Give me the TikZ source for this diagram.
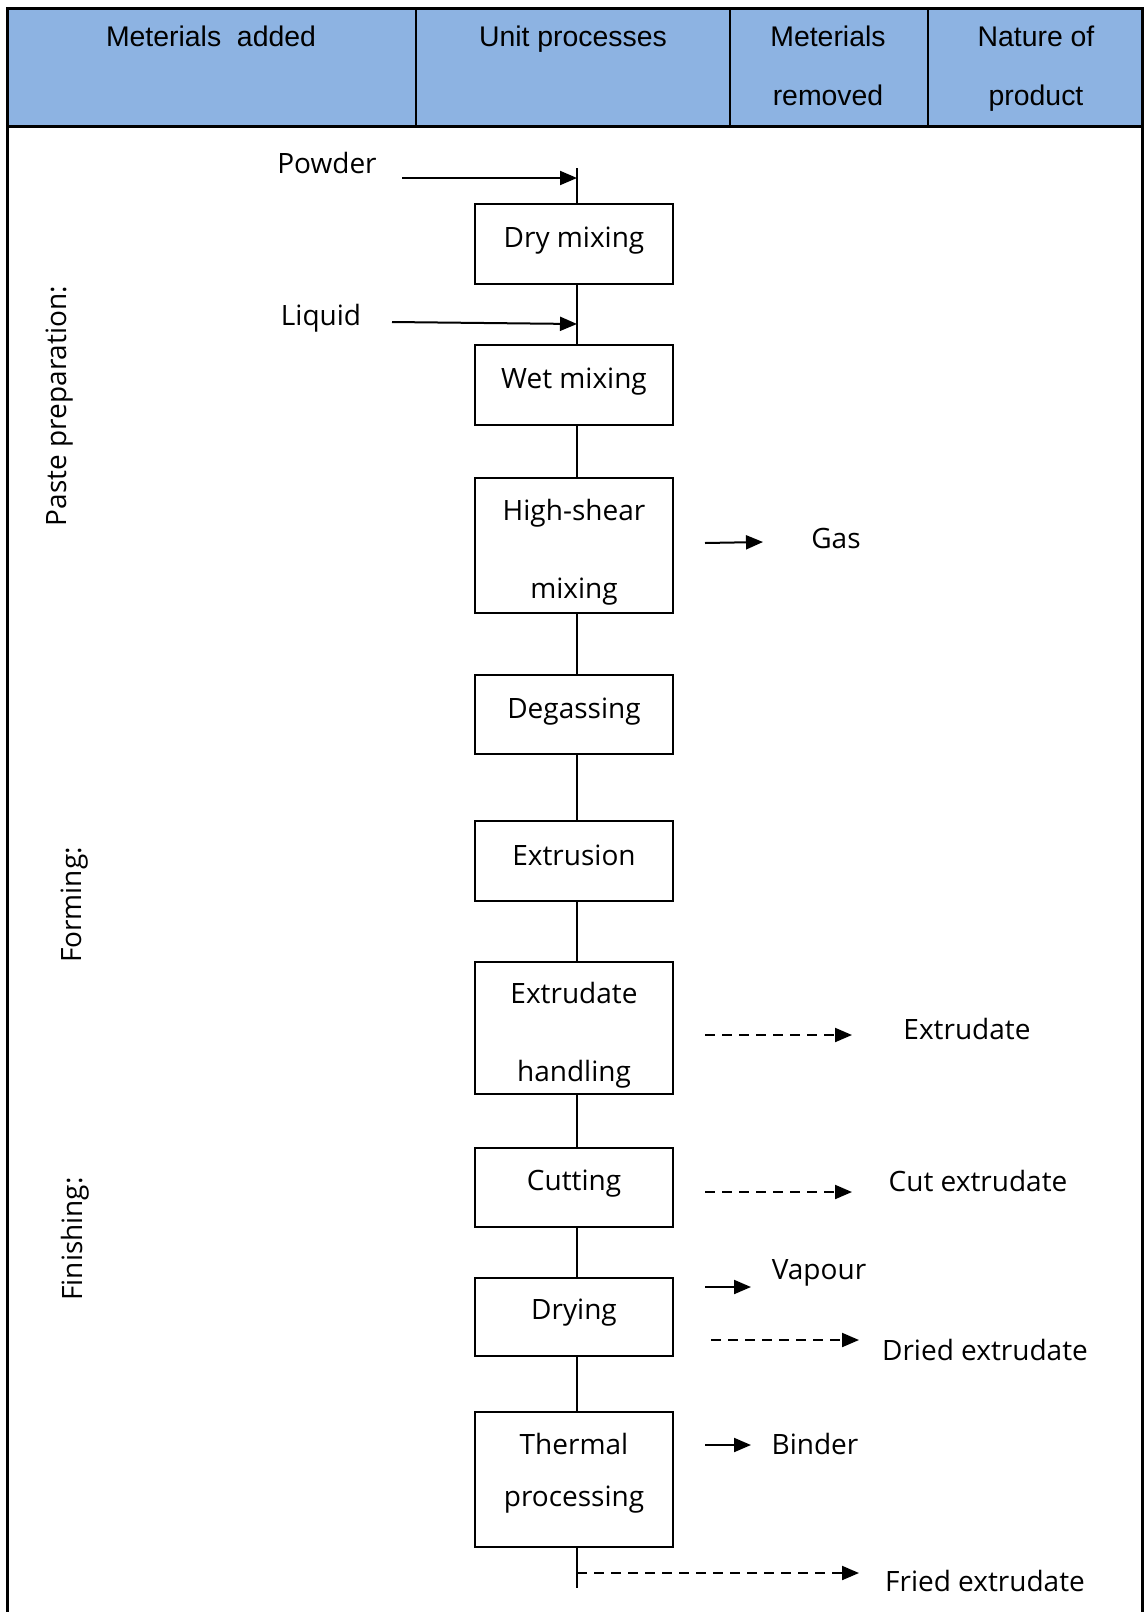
\documentclass[tikz,border=0pt]{standalone}
\usepackage{fontspec}
\setmainfont{Open Sans}
\newfontfamily\headfont{Liberation Sans}
\usetikzlibrary{arrows.meta}
\definecolor{headblue}{HTML}{8DB3E2}

\begin{document}
\begin{tikzpicture}[x=0.5pt,y=-0.5pt,
  procbox/.style={draw, line width=1pt, minimum width=99pt, inner sep=0pt},
  lbl/.style={font=\fontsize{14}{16}\selectfont, inner sep=0pt},
  boxtxt/.style={lbl, align=center},
  sidelbl/.style={lbl, rotate=90},
  headtxt/.style={font=\headfont\fontsize{14.2}{17}\selectfont, inner sep=0pt, anchor=base},
  flow/.style={line width=1pt},
  feed/.style={line width=1pt, -{Triangle[length=8.5pt,width=7pt]}},
  prod/.style={feed, dash pattern=on 5pt off 3.5pt},
  frame/.style={line width=1.5pt},
  off/.style={xshift=1.5pt},
]
\useasboundingbox (0,0) rectangle (1144,1612);

% table header
\fill[headblue] (7,8) rectangle (1142,126);
\draw[frame] (7,1612) -- (7,8) -- (1142,8) -- (1142,1612);
\draw[frame] (7,126) -- (1142,126);
\draw[line width=1.2pt] (416,8) -- (416,126) (730,8) -- (730,126) (928,8) -- (928,126);

\node[headtxt] (hadd) at (211,46.5) {Meterials\ \ added};
\node[headtxt] (hunit) at (573,46.5) {Unit processes};
\node[headtxt] (hrem1) at (828,46.5) {Meterials};
\node[headtxt] (hrem2) at (828,105.5) {removed};
\node[headtxt] (hnat1) at (1036,46.5) {Nature of};
\node[headtxt] (hnat2) at (1036,105.5) {product};

% stage labels
\node[sidelbl] (stpaste) at (60,406) {Paste preparation:};
\node[sidelbl] (stform) at (75,905) {Forming:};
\node[sidelbl] (stfin) at (75,1239) {Finishing:};

% unit processes
\node[procbox, minimum height=40pt] (dry) at (574,244) {};
\node[procbox, minimum height=40pt] (wet) at (574,385) {};
\node[procbox, minimum height=67.5pt] (shear) at (574,545.5) {};
\node[procbox, minimum height=39.5pt] (degas) at (574,714.5) {};
\node[procbox, minimum height=40pt] (extr) at (574,861) {};
\node[procbox, minimum height=66pt] (handl) at (574,1028) {};
\node[procbox, minimum height=39.5pt] (cut) at (574,1187.5) {};
\node[procbox, minimum height=39pt] (drying) at (574,1317) {};
\node[procbox, minimum height=67.5pt] (therm) at (574,1479.5) {};

\node[boxtxt] (dry-t) at ([yshift=1.6pt]dry.center) {Dry mixing};
\node[boxtxt] (wet-t) at ([yshift=1.6pt]wet.center) {Wet mixing};
\node[boxtxt] (shear-t) at ([yshift=-3.6pt]shear.center) {High-shear\\[23pt]mixing};
\node[boxtxt] (degas-t) at ([yshift=1.6pt]degas.center) {Degassing};
\node[boxtxt] (extr-t) at ([yshift=3pt]extr.center) {Extrusion};
\node[boxtxt] (handl-t) at ([yshift=-3.8pt]handl.center) {Extrudate\\[23pt]handling};
\node[boxtxt] (cut-t) at ([yshift=2pt]cut.center) {Cutting};
\node[boxtxt] (drying-t) at ([yshift=2pt]drying.center) {Drying};
\node[boxtxt] (therm-t) at ([yshift=3.3pt]therm.center) {Thermal\\[10pt]processing};

% main process line
\coordinate (top) at (577,168);
\coordinate (bottom) at (577,1588);
\draw[flow] (top) -- ([off]dry.north);
\draw[flow] ([off]dry.south) -- ([off]wet.north);
\draw[flow] ([off]wet.south) -- ([off]shear.north);
\draw[flow] ([off]shear.south) -- ([off]degas.north);
\draw[flow] ([off]degas.south) -- ([off]extr.north);
\draw[flow] ([off]extr.south) -- ([off]handl.north);
\draw[flow] ([off]handl.south) -- ([off]cut.north);
\draw[flow] ([off]cut.south) -- ([off]drying.north);
\draw[flow] ([off]drying.south) -- ([off]therm.north);
\draw[flow] ([off]therm.south) -- (bottom);

% materials added
\node[lbl] (powder) at (327,163) {Powder};
\node[lbl] (liquid) at (321,318) {Liquid};
\coordinate (powderin) at (402,178);
\coordinate (powderjoin) at (577,178);
\coordinate (liquidin) at (392,322);
\coordinate (liquidjoin) at (577,324);
\draw[feed] (powderin) -- (powderjoin);
\draw[feed] (liquidin) -- (liquidjoin);

% materials removed and products
\node[lbl] (gas) at (836,538) {Gas};
\node[lbl] (pextr) at (967,1029) {Extrudate};
\node[lbl] (pcut) at (978,1181) {Cut extrudate};
\node[lbl] (vapour) at (819,1273) {Vapour};
\node[lbl] (pdried) at (985,1350) {Dried extrudate};
\node[lbl] (binder) at (815,1444) {Binder};
\node[lbl] (pfried) at (985,1581) {Fried extrudate};

\coordinate (gasA) at (705,543);   \coordinate (gasB) at (763,542);
\coordinate (extA) at (705,1035);  \coordinate (extB) at (852,1035);
\coordinate (cutA) at (705,1192);  \coordinate (cutB) at (852,1192);
\coordinate (vapA) at (705,1287);  \coordinate (vapB) at (751,1287);
\coordinate (drdA) at (711,1340);  \coordinate (drdB) at (859,1340);
\coordinate (binA) at (705,1445);  \coordinate (binB) at (751,1445);
\coordinate (friA) at (577,1573);  \coordinate (friB) at (859,1573);

\draw[feed] (gasA) -- (gasB);
\draw[prod] (extA) -- (extB);
\draw[prod] (cutA) -- (cutB);
\draw[feed] (vapA) -- (vapB);
\draw[prod] (drdA) -- (drdB);
\draw[feed] (binA) -- (binB);
\draw[prod] (friA) -- (friB);
\end{tikzpicture}
\end{document}
